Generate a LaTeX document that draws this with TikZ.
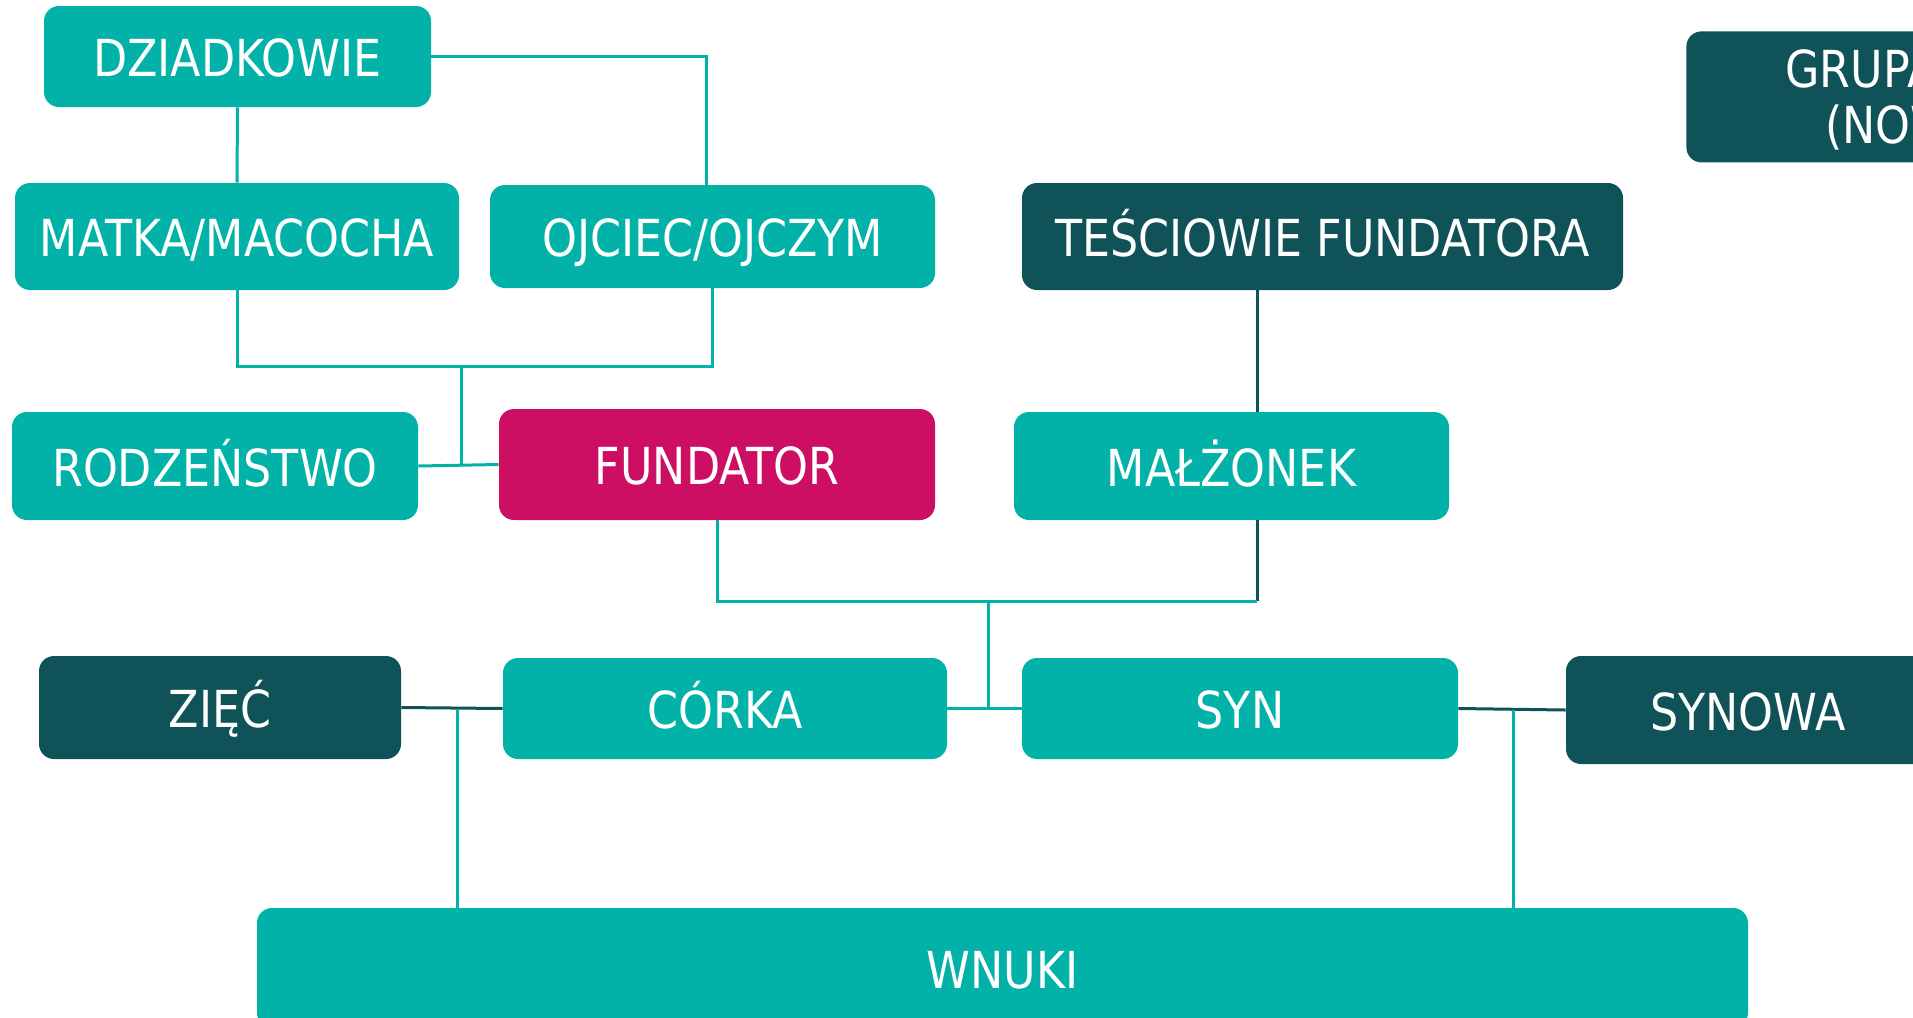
\documentclass[tikz,border=0pt]{standalone}
\usepackage{fontspec}
\setmainfont{DejaVu Sans}[FakeStretch=0.87]
\usetikzlibrary{calc}
\definecolor{tealc}{RGB}{2,178,169}
\definecolor{darkc}{RGB}{15,82,87}
\definecolor{magc}{RGB}{204,15,98}
\tikzset{
  sz/.style 2 args={minimum width=#1*0.5pt, minimum height=#2*0.5pt},
  basebox/.style={rectangle, rounded corners=7.5pt, inner sep=0pt, text=white,
    text height=20pt, text depth=0pt,
    font=\fontsize{25.5pt}{29pt}\selectfont},
  tealbox/.style={basebox, fill=tealc},
  darkbox/.style={basebox, fill=darkc},
  magbox/.style={basebox, fill=magc},
  txt/.style={inner sep=0pt, text=white, font=\fontsize{25.5pt}{29pt}\selectfont},
  tline/.style={draw=tealc, line width=1.5pt},
  dline/.style={draw=darkc, line width=1.5pt}
}
\begin{document}
\begin{tikzpicture}[x=0.5pt, y=-0.5pt]
\useasboundingbox (0,0) rectangle (1913,1018);
\clip (0,0) rectangle (1913,1018);

% family members
\node[tealbox, sz={387}{101}] (dz) at (237.5,56.5) {DZIADKOWIE};
\node[tealbox, sz={444}{107}] (matka) at (237,236.5) {MATKA/MACOCHA};
\node[tealbox, sz={445}{103}] (ojciec) at (712.5,236.5) {OJCIEC/OJCZYM};
\node[darkbox, sz={601}{107}] (tesc) at (1322.5,236.5) {TEŚCIOWIE FUNDATORA};
\node[darkbox, sz={430}{131}, anchor=north west] (grupa) at (1686,31) {};
\node[txt, anchor=base west] (grupa1) at (1785,87) {GRUPA};
\node[txt, anchor=base west] (grupa2) at (1825,143) {(NOW};
\node[tealbox, sz={406}{108}] (rodz) at (215,466) {RODZEŃSTWO};
\node[magbox, sz={436}{111}] (fund) at (717,464.5) {FUNDATOR};
\node[tealbox, sz={435}{108}] (mal) at (1231.5,466) {MAŁŻONEK};
\node[darkbox, sz={362}{103}] (ziec) at (220,707.5) {ZIĘĆ};
\node[tealbox, sz={444}{101}] (cork) at (725,708.5) {CÓRKA};
\node[tealbox, sz={436}{101}] (syn) at (1240,708.5) {SYN};
\node[darkbox, sz={364}{108}] (synowa) at (1748,710) {SYNOWA};
\node[tealbox, sz={1491}{120}] (wnuki) at (1002.5,968) {WNUKI};

% junction points
\coordinate (pj) at (461,366);
\coordinate (mx) at (1257,601);
\coordinate (cj) at (988,601);
\coordinate (zx) at (457,709);
\coordinate (sx) at (1513,710);

% grandparents to parents
\draw[tline] (dz.south) -- (matka.north);
\draw[tline] (dz.east) -| ($(ojciec.north)+(-6,0)$);

% parents to founder and siblings
\draw[tline] (matka.south) -- (matka.south |- pj) -- (ojciec.south |- pj) -- (ojciec.south);
\draw[tline] (pj) -- (pj |- fund.west);
\draw[tline] (rodz.east) -- (fund.west);

% in-laws and spouse
\draw[dline] (tesc.south -| mx) -- (mal.north -| mx);
\draw[dline] (mal.south -| mx) -- (mx);

% founder and spouse to children
\draw[tline] (fund.south) -- (fund.south |- mx) -- (mx);
\draw[tline] (cj) -- (cj |- cork.east);
\draw[tline] (cork.east) -- (syn.west);

% children's spouses and grandchildren
\draw[dline] (ziec.east) -- (cork.west);
\draw[tline] (zx) -- (zx |- wnuki.north);
\draw[dline] (syn.east) -- (synowa.west);
\draw[tline] (sx) -- (sx |- wnuki.north);
\end{tikzpicture}
\end{document}
